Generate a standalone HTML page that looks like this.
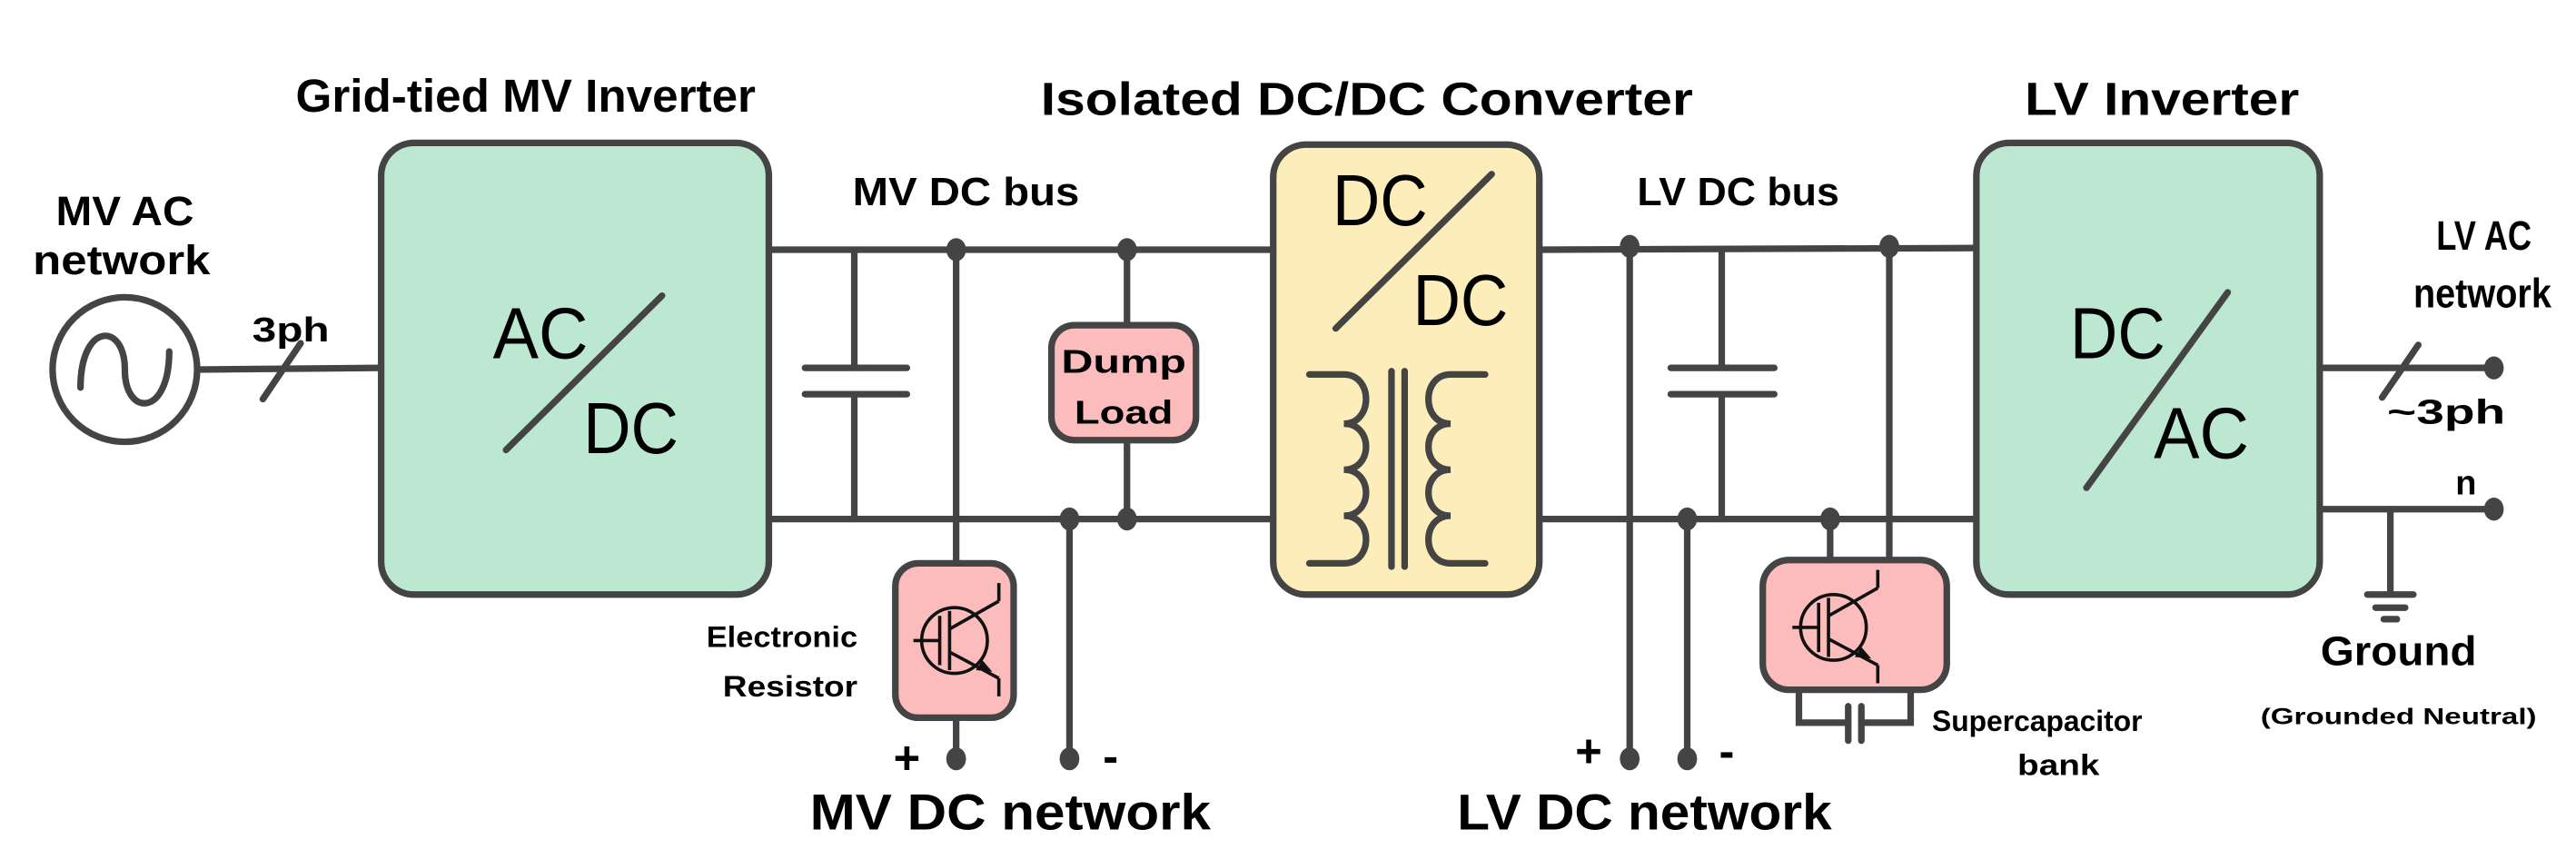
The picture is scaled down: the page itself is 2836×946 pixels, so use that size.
<!DOCTYPE html>
<html><head><style>html,body{margin:0;padding:0;background:#fff;}svg{display:block}</style></head>
<body>
<svg width="2836" height="946" viewBox="0 0 1568 523" xmlns="http://www.w3.org/2000/svg" font-family="Liberation Sans, sans-serif">
<g stroke="#444" stroke-width="4" fill="none" stroke-linecap="round">
<rect x="232" y="87" width="236" height="275" rx="20" fill="#bce8d2"/>
<rect x="775" y="88" width="162" height="274" rx="20" fill="#fdedbb"/>
<rect x="1203" y="87" width="209" height="275" rx="20" fill="#bce8d2"/>
<rect x="640" y="198" width="88" height="70" rx="14" fill="#fbbcbb"/>
<rect x="545" y="343" width="72" height="94" rx="14" fill="#fbbcbb"/>
<rect x="1073" y="341" width="112" height="79" rx="16" fill="#fbbcbb"/>
<circle cx="76" cy="225" r="44" fill="#fff"/>
<path d="M49 236 C49 196 76 196 76 225 C76 254 103 254 103 214"/>
<line x1="120" y1="225" x2="232" y2="224"/>
<line x1="160" y1="243" x2="183" y2="209"/>
<line x1="468" y1="152" x2="775" y2="152"/>
<line x1="468" y1="316" x2="775" y2="316"/>
<line x1="520" y1="152" x2="520" y2="224"/><line x1="520" y1="241" x2="520" y2="316"/>
<line x1="490" y1="224" x2="552" y2="224"/><line x1="490" y1="240" x2="552" y2="240"/>
<line x1="582" y1="152" x2="582" y2="343"/><line x1="582" y1="437" x2="582" y2="462"/>
<line x1="651" y1="316" x2="651" y2="462"/>
<line x1="686" y1="152" x2="686" y2="198"/><line x1="686" y1="268" x2="686" y2="316"/>
<line x1="937" y1="152" x2="1203" y2="151"/>
<line x1="937" y1="316" x2="1203" y2="316"/>
<line x1="992" y1="150" x2="992" y2="462"/>
<line x1="1027" y1="316" x2="1027" y2="462"/>
<line x1="1048" y1="152" x2="1048" y2="224"/><line x1="1048" y1="241" x2="1048" y2="316"/>
<line x1="1017" y1="224" x2="1080" y2="224"/><line x1="1017" y1="240" x2="1080" y2="240"/>
<line x1="1114" y1="316" x2="1114" y2="341"/>
<line x1="1150" y1="150" x2="1150" y2="341"/>
<path d="M1095 420 V440 H1125 M1133 440 H1163 V420"/>
<line x1="1125" y1="430" x2="1125" y2="451"/><line x1="1133" y1="430" x2="1133" y2="451"/>
<line x1="1412" y1="224" x2="1518" y2="224"/>
<line x1="1450" y1="242" x2="1472" y2="210"/>
<line x1="1412" y1="310" x2="1518" y2="310"/>
<line x1="1455" y1="310" x2="1455" y2="360"/>
<line x1="1441" y1="362" x2="1469" y2="362"/><line x1="1446" y1="370" x2="1464" y2="370"/><line x1="1451" y1="377" x2="1459" y2="377"/>
<line x1="308" y1="274" x2="403" y2="180"/>
<line x1="813" y1="200" x2="908" y2="106"/>
<line x1="1270" y1="297" x2="1356" y2="178"/>
<path d="M797 228 H818 C836 228 836 258 818 258 C836 258 836 286 818 286 C836 286 836 314 818 314 C836 314 836 343 818 343 H797"/>
<path d="M904 228 H883 C865 228 865 258 883 258 C865 258 865 286 883 286 C865 286 865 314 883 314 C865 314 865 343 883 343 H904"/>
<line x1="847" y1="226" x2="847" y2="345"/><line x1="855" y1="226" x2="855" y2="345"/>
</g>
<g stroke="#111" stroke-width="2" fill="none">
<circle cx="581" cy="390" r="20"/>
<line x1="556" y1="390" x2="572" y2="390"/><line x1="572" y1="375" x2="572" y2="405"/>
<line x1="578" y1="372" x2="578" y2="408"/>
<line x1="578" y1="383" x2="608" y2="366"/><line x1="608" y1="366" x2="608" y2="355"/>
<line x1="578" y1="397" x2="608" y2="413"/><line x1="608" y1="413" x2="608" y2="424"/>
<circle cx="1116" cy="382" r="20"/>
<line x1="1091" y1="382" x2="1107" y2="382"/><line x1="1107" y1="367" x2="1107" y2="397"/>
<line x1="1113" y1="364" x2="1113" y2="400"/>
<line x1="1113" y1="375" x2="1143" y2="358"/><line x1="1143" y1="358" x2="1143" y2="347"/>
<line x1="1113" y1="389" x2="1143" y2="405"/><line x1="1143" y1="405" x2="1143" y2="416"/>
</g>
<g fill="#111"><polygon points="598,402 604,409 594,408"/><polygon points="1133,394 1139,401 1129,400"/></g>
<g fill="#444">
<ellipse cx="582" cy="152" rx="6" ry="7"/><ellipse cx="686" cy="152" rx="6" ry="7"/>
<ellipse cx="651" cy="316" rx="6" ry="7"/><ellipse cx="686" cy="316" rx="6" ry="7"/>
<ellipse cx="582" cy="462" rx="6" ry="7"/><ellipse cx="651" cy="462" rx="6" ry="7"/>
<ellipse cx="992" cy="150" rx="6" ry="7"/><ellipse cx="1150" cy="150" rx="6" ry="7"/>
<ellipse cx="1027" cy="316" rx="6" ry="7"/><ellipse cx="1114" cy="316" rx="6" ry="7"/>
<ellipse cx="992" cy="462" rx="6" ry="7"/><ellipse cx="1027" cy="462" rx="6" ry="7"/>
<ellipse cx="1518" cy="224" rx="6" ry="7"/><ellipse cx="1518" cy="310" rx="6" ry="7"/>
</g>
<g fill="#000" font-weight="bold" text-anchor="middle">
<text x="320" y="68" font-size="28" textLength="280" lengthAdjust="spacingAndGlyphs">Grid-tied MV Inverter</text>
<text x="832" y="70" font-size="28" textLength="397" lengthAdjust="spacingAndGlyphs">Isolated DC/DC Converter</text>
<text x="1316" y="70" font-size="28" textLength="167" lengthAdjust="spacingAndGlyphs">LV Inverter</text>
<text x="76" y="137" font-size="25" textLength="84" lengthAdjust="spacingAndGlyphs">MV AC</text>
<text x="74" y="167" font-size="25" textLength="108" lengthAdjust="spacingAndGlyphs">network</text>
<text x="177" y="208" font-size="21" textLength="47" lengthAdjust="spacingAndGlyphs">3ph</text>
<text x="588" y="125" font-size="24" textLength="138" lengthAdjust="spacingAndGlyphs">MV DC bus</text>
<text x="1058" y="125" font-size="24" textLength="123" lengthAdjust="spacingAndGlyphs">LV DC bus</text>
<text x="684" y="227" font-size="20" textLength="76" lengthAdjust="spacingAndGlyphs">Dump</text>
<text x="684" y="258" font-size="20" textLength="60" lengthAdjust="spacingAndGlyphs">Load</text>
<text x="476" y="394" font-size="18" textLength="92" lengthAdjust="spacingAndGlyphs">Electronic</text>
<text x="481" y="424" font-size="18" textLength="82" lengthAdjust="spacingAndGlyphs">Resistor</text>
<text x="615" y="505" font-size="31" textLength="244" lengthAdjust="spacingAndGlyphs">MV DC network</text>
<text x="1001" y="505" font-size="31" textLength="228" lengthAdjust="spacingAndGlyphs">LV DC network</text>
<text x="552" y="471" font-size="28">+</text>
<text x="676" y="470" font-size="28">-</text>
<text x="967" y="467" font-size="28">+</text>
<text x="1051" y="467" font-size="28">-</text>
<text x="1240" y="445" font-size="18" textLength="128" lengthAdjust="spacingAndGlyphs">Supercapacitor</text>
<text x="1253" y="472" font-size="18" textLength="50" lengthAdjust="spacingAndGlyphs">bank</text>
<text x="1512" y="152" font-size="25" textLength="58" lengthAdjust="spacingAndGlyphs">LV AC</text>
<text x="1511" y="187" font-size="25" textLength="84" lengthAdjust="spacingAndGlyphs">network</text>
<text x="1489" y="258" font-size="21" textLength="72" lengthAdjust="spacingAndGlyphs">~3ph</text>
<text x="1501" y="301" font-size="21">n</text>
<text x="1460" y="405" font-size="25" textLength="95" lengthAdjust="spacingAndGlyphs">Ground</text>
<text x="1460" y="441" font-size="14" textLength="168" lengthAdjust="spacingAndGlyphs">(Grounded Neutral)</text>
</g>
<g fill="#000" text-anchor="middle" font-size="44">
<text x="329" y="218" textLength="58" lengthAdjust="spacingAndGlyphs">AC</text>
<text x="384" y="276" textLength="58" lengthAdjust="spacingAndGlyphs">DC</text>
<text x="840" y="137" textLength="58" lengthAdjust="spacingAndGlyphs">DC</text>
<text x="889" y="198" textLength="58" lengthAdjust="spacingAndGlyphs">DC</text>
<text x="1289" y="218" textLength="58" lengthAdjust="spacingAndGlyphs">DC</text>
<text x="1340" y="279" textLength="58" lengthAdjust="spacingAndGlyphs">AC</text>
</g>
</svg>
</body></html>
